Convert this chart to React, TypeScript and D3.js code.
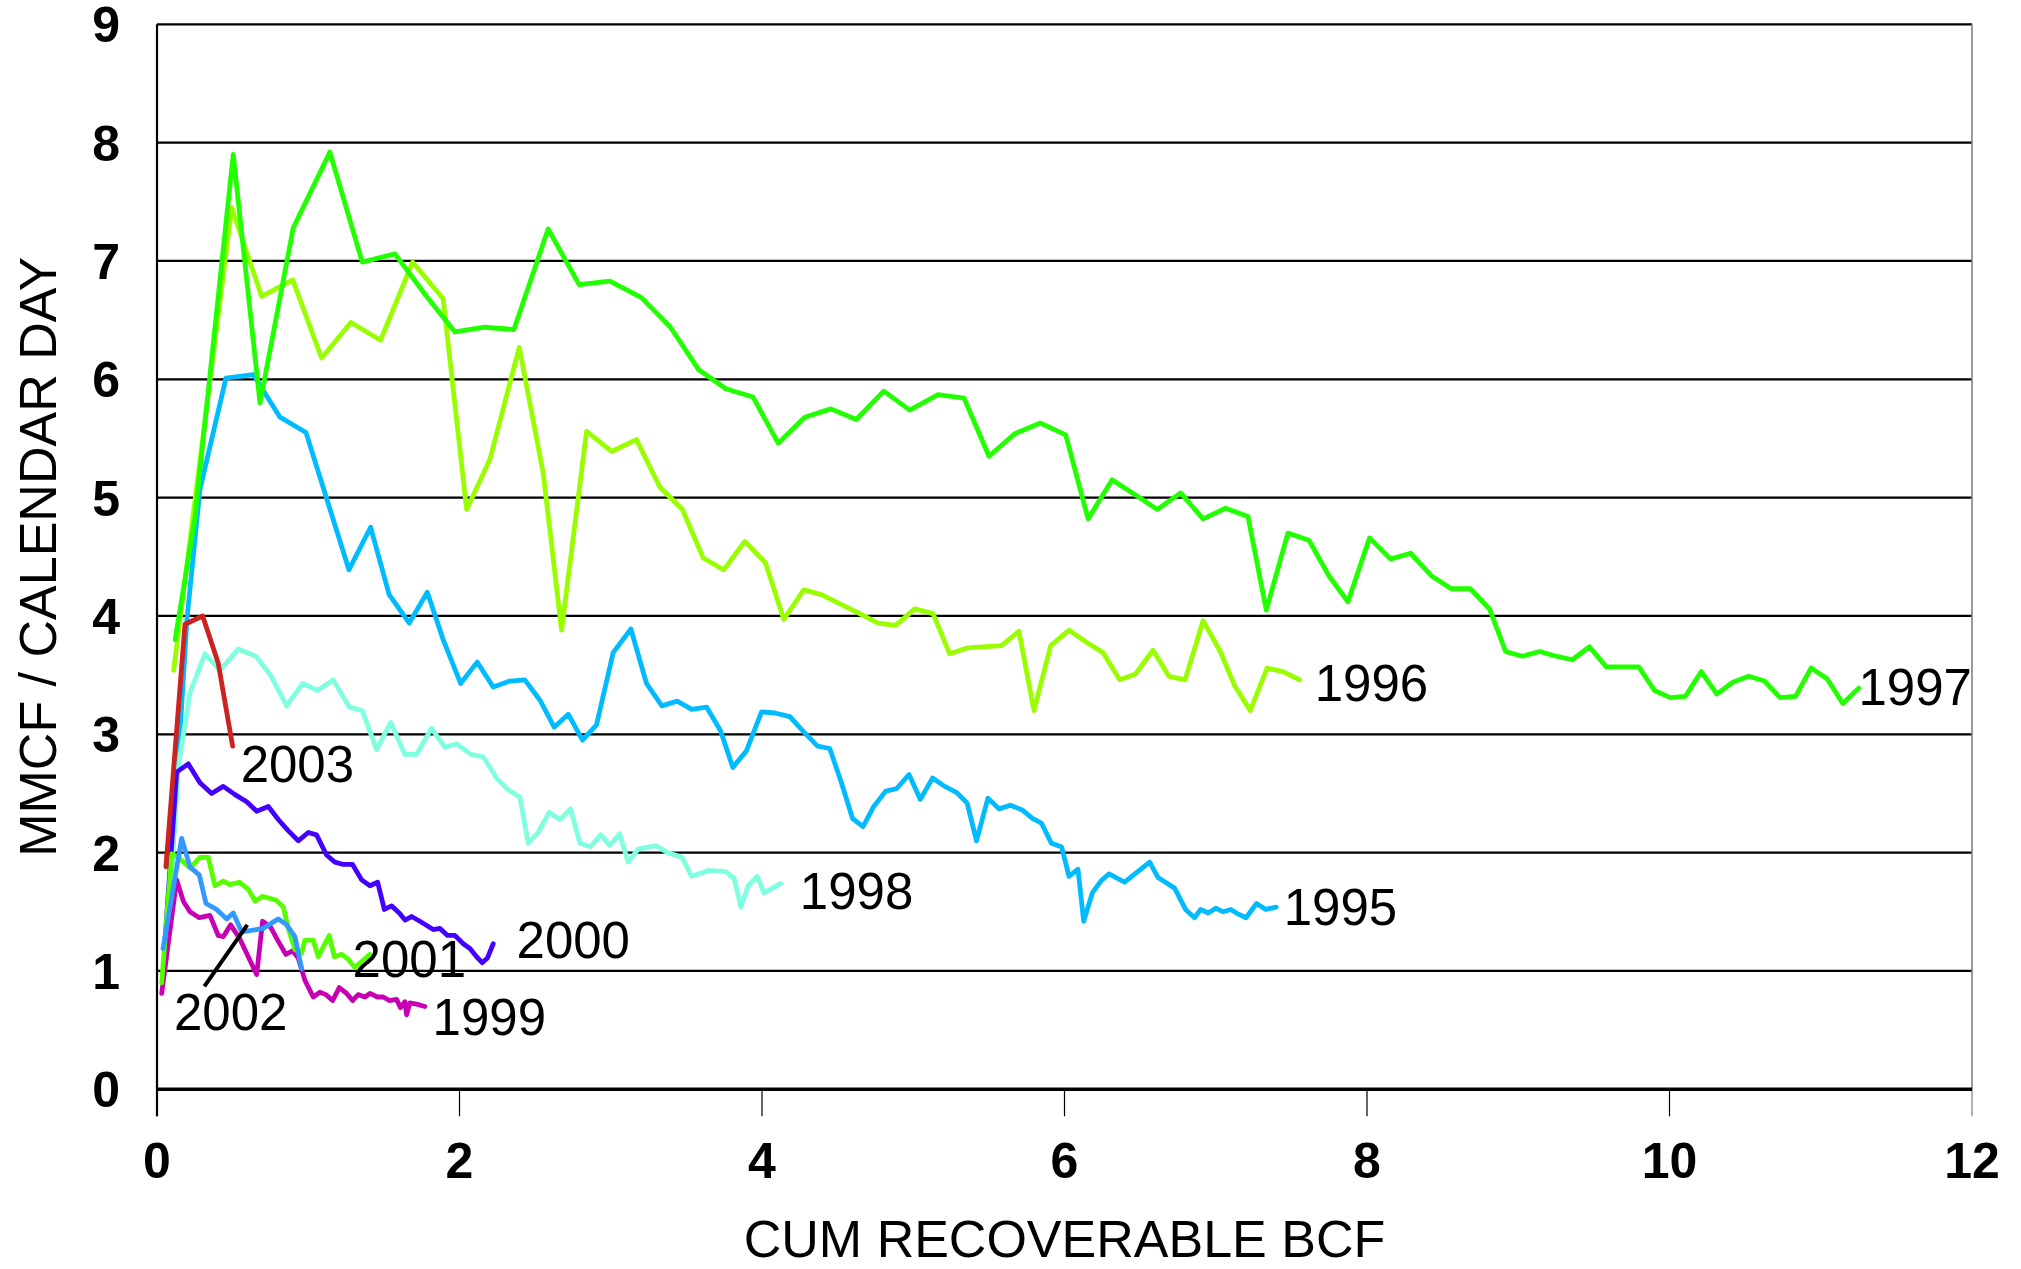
import React from "react";
import * as d3 from "d3";

type Pt = [number, number];

const xTicks = [0, 2, 4, 6, 8, 10, 12];
const yTicks = [0, 1, 2, 3, 4, 5, 6, 7, 8, 9];

const s1995: Pt[] = [[0.06,1.1],[0.198,3.97],[0.284,5.07],[0.456,6.01],[0.637,6.04],[0.813,5.68],[0.985,5.55],[1.269,4.39],[1.412,4.75],[1.535,4.18],[1.668,3.94],[1.787,4.2],[1.892,3.8],[2.007,3.43],[2.117,3.61],[2.223,3.4],[2.333,3.45],[2.432,3.46],[2.531,3.29],[2.626,3.06],[2.719,3.17],[2.813,2.95],[2.906,3.08],[3.016,3.69],[3.133,3.89],[3.236,3.43],[3.338,3.24],[3.439,3.28],[3.536,3.21],[3.633,3.23],[3.726,3.03],[3.807,2.72],[3.897,2.86],[3.997,3.19],[4.085,3.18],[4.184,3.15],[4.276,3.02],[4.367,2.9],[4.448,2.88],[4.525,2.59],[4.598,2.29],[4.668,2.22],[4.739,2.39],[4.818,2.52],[4.889,2.54],[4.972,2.66],[5.047,2.45],[5.127,2.63],[5.208,2.56],[5.285,2.51],[5.356,2.42],[5.418,2.1],[5.494,2.46],[5.567,2.37],[5.642,2.4],[5.722,2.36],[5.788,2.29],[5.847,2.25],[5.913,2.08],[5.98,2.05],[6.03,1.8],[6.089,1.86],[6.127,1.42],[6.184,1.66],[6.24,1.76],[6.294,1.82],[6.397,1.75],[6.563,1.92],[6.618,1.79],[6.728,1.7],[6.8,1.52],[6.86,1.45],[6.9,1.52],[6.95,1.49],[7.0,1.53],[7.05,1.5],[7.1,1.52],[7.15,1.48],[7.2,1.45],[7.27,1.57],[7.33,1.52],[7.4,1.54]];

const s1996: Pt[] = [[0.11,3.54],[0.494,7.45],[0.692,6.7],[0.897,6.84],[1.088,6.18],[1.282,6.48],[1.478,6.33],[1.69,6.99],[1.892,6.68],[2.047,4.9],[2.2,5.32],[2.395,6.27],[2.553,5.21],[2.675,3.88],[2.84,5.56],[3.005,5.39],[3.17,5.49],[3.324,5.09],[3.474,4.9],[3.611,4.49],[3.747,4.39],[3.886,4.63],[4.023,4.45],[4.144,3.97],[4.276,4.22],[4.393,4.18],[4.646,4.02],[4.767,3.94],[4.884,3.92],[5.01,4.06],[5.131,4.02],[5.241,3.68],[5.356,3.73],[5.583,3.75],[5.699,3.87],[5.798,3.2],[5.909,3.75],[6.03,3.88],[6.155,3.77],[6.255,3.69],[6.365,3.46],[6.47,3.51],[6.585,3.71],[6.691,3.49],[6.797,3.46],[6.916,3.96],[7.03,3.7],[7.125,3.41],[7.228,3.2],[7.339,3.56],[7.444,3.53],[7.555,3.46]];

const s1997: Pt[] = [[0.12,3.8],[0.25,4.82],[0.504,7.9],[0.681,5.8],[0.901,7.28],[1.143,7.92],[1.357,6.99],[1.573,7.06],[1.783,6.7],[1.97,6.4],[2.168,6.44],[2.36,6.42],[2.586,7.27],[2.791,6.8],[2.994,6.83],[3.203,6.69],[3.395,6.44],[3.582,6.08],[3.761,5.92],[3.941,5.85],[4.107,5.46],[4.283,5.68],[4.455,5.75],[4.624,5.66],[4.805,5.9],[4.977,5.74],[5.164,5.87],[5.336,5.84],[5.501,5.35],[5.671,5.54],[5.841,5.63],[6.008,5.53],[6.156,4.82],[6.314,5.15],[6.46,5.03],[6.614,4.9],[6.768,5.04],[6.916,4.82],[7.065,4.91],[7.213,4.84],[7.334,4.05],[7.477,4.7],[7.616,4.64],[7.748,4.34],[7.874,4.12],[8.017,4.66],[8.156,4.48],[8.288,4.53],[8.425,4.34],[8.557,4.23],[8.683,4.23],[8.81,4.06],[8.916,3.7],[9.026,3.66],[9.141,3.7],[9.251,3.66],[9.357,3.63],[9.471,3.74],[9.582,3.57],[9.692,3.57],[9.797,3.57],[9.901,3.37],[10.005,3.31],[10.104,3.32],[10.21,3.53],[10.313,3.34],[10.418,3.44],[10.524,3.49],[10.628,3.45],[10.731,3.31],[10.833,3.32],[10.936,3.56],[11.042,3.47],[11.146,3.26],[11.251,3.39]];

const s1998: Pt[] = [[0.06,1.1],[0.141,2.73],[0.218,3.35],[0.317,3.68],[0.416,3.54],[0.537,3.72],[0.654,3.66],[0.751,3.5],[0.857,3.24],[0.963,3.43],[1.062,3.37],[1.165,3.46],[1.271,3.23],[1.357,3.2],[1.452,2.87],[1.545,3.1],[1.639,2.83],[1.716,2.83],[1.815,3.05],[1.904,2.89],[1.981,2.92],[2.075,2.83],[2.157,2.81],[2.245,2.63],[2.322,2.53],[2.399,2.47],[2.454,2.08],[2.52,2.17],[2.593,2.34],[2.664,2.28],[2.734,2.37],[2.796,2.08],[2.866,2.05],[2.933,2.15],[2.994,2.06],[3.058,2.16],[3.115,1.92],[3.181,2.03],[3.298,2.06],[3.375,2.0],[3.472,1.96],[3.534,1.8],[3.65,1.85],[3.761,1.84],[3.816,1.78],[3.86,1.54],[3.908,1.72],[3.968,1.8],[4.014,1.66],[4.124,1.74]];

const s1999: Pt[] = [[0.031,0.81],[0.13,1.77],[0.174,1.59],[0.218,1.5],[0.28,1.45],[0.35,1.47],[0.405,1.3],[0.438,1.29],[0.487,1.39],[0.544,1.28],[0.659,0.97],[0.698,1.42],[0.751,1.37],[0.802,1.25],[0.852,1.14],[0.896,1.17],[0.934,1.11],[0.978,0.92],[1.033,0.78],[1.077,0.82],[1.117,0.8],[1.161,0.75],[1.205,0.86],[1.254,0.81],[1.293,0.75],[1.33,0.8],[1.375,0.78],[1.408,0.81],[1.456,0.78],[1.496,0.78],[1.536,0.75],[1.584,0.76],[1.61,0.69],[1.639,0.74],[1.65,0.63],[1.672,0.73],[1.716,0.72],[1.771,0.7]];

const s2000: Pt[] = [[0.05,1.2],[0.13,2.68],[0.207,2.75],[0.284,2.59],[0.361,2.5],[0.438,2.56],[0.516,2.49],[0.593,2.43],[0.659,2.35],[0.736,2.39],[0.802,2.28],[0.864,2.19],[0.934,2.1],[1.0,2.17],[1.055,2.15],[1.121,1.98],[1.176,1.92],[1.232,1.9],[1.293,1.9],[1.353,1.77],[1.408,1.72],[1.459,1.75],[1.503,1.52],[1.551,1.55],[1.602,1.49],[1.64,1.43],[1.683,1.46],[1.738,1.42],[1.789,1.38],[1.826,1.35],[1.87,1.36],[1.921,1.3],[1.97,1.3],[2.025,1.23],[2.069,1.19],[2.113,1.12],[2.15,1.07],[2.185,1.11],[2.223,1.23]];

const s2001: Pt[] = [[0.031,0.9],[0.097,1.99],[0.141,1.96],[0.218,1.87],[0.284,1.96],[0.339,1.96],[0.383,1.72],[0.438,1.76],[0.482,1.73],[0.544,1.75],[0.604,1.69],[0.648,1.59],[0.696,1.63],[0.786,1.6],[0.835,1.54],[0.868,1.36],[0.912,1.18],[0.956,1.15],[0.978,1.26],[1.033,1.26],[1.066,1.12],[1.139,1.3],[1.172,1.12],[1.221,1.14],[1.264,1.1],[1.308,1.03],[1.353,1.08],[1.408,1.14]];

const s2002: Pt[] = [[0.04,1.19],[0.163,2.12],[0.218,1.88],[0.28,1.81],[0.324,1.57],[0.394,1.52],[0.461,1.44],[0.504,1.49],[0.56,1.33],[0.614,1.34],[0.703,1.36],[0.802,1.44],[0.857,1.39],[0.912,1.29],[0.956,1.02]];

const s2003: Pt[] = [[0.059,1.88],[0.185,3.93],[0.302,4.0],[0.405,3.6],[0.5,2.9]];

const leader2002: Pt[] = [[0.313,0.87],[0.597,1.39]];

const seriesNames = ["1995","1996","1997","1998","1999","2000","2001","2002","2003"];
const seriesData = [s1995, s1996, s1997, s1998, s1999, s2000, s2001, s2002, s2003];
const seriesColors = ["#00BBFF","#99FF00","#22FF00","#7FFFDF","#C800B4","#4400FF","#55FF00","#3399FF","#CC2222"];
// label anchor (data coords, text baseline start)
const labelPos: Pt[] = [[7.449,1.389],[7.654,3.28],[11.249,3.248],[4.25,1.524],[1.822,0.459],[2.377,1.107],[1.293,0.952],[0.112,0.501],[0.553,2.6]];

const W = 2021, H = 1269;
const FONT = "'Liberation Sans', Arial, Helvetica, sans-serif";

export default function App() {
  const x = d3.scaleLinear().domain([0, 12]).range([157, 1972]);
  const y = d3.scaleLinear().domain([0, 9]).range([1089.3, 24.3]);
  const line = d3.line<Pt>().x(d => x(d[0])).y(d => y(d[1]));

  return (
    <svg width={W} height={H} style={{ position: "absolute", left: 0, top: 0, background: "#fff" }} fontFamily={FONT}>
      <rect x={0} y={0} width={W} height={H} fill="#fff" />
      {/* gridlines */}
      {yTicks.filter(t => t > 0).map(t => (
        <line key={"g" + t} x1={x(0)} x2={x(12)} y1={y(t)} y2={y(t)} stroke="#000" strokeWidth={2.2} />
      ))}
      {/* right border */}
      <line x1={x(12)} x2={x(12)} y1={y(9)} y2={y(0)} stroke="#808080" strokeWidth={1.6} />
      {/* x ticks */}
      {xTicks.map(t => (
        <line key={"xt" + t} x1={x(t)} x2={x(t)} y1={y(0)} y2={y(0) + 27} stroke={t === 12 ? "#808080" : "#000"} strokeWidth={1.2} />
      ))}
      {/* left axis */}
      <line x1={x(0)} x2={x(0)} y1={y(9)} y2={y(0) + 27} stroke="#000" strokeWidth={2.2} />
      {/* series */}
      {seriesData.map((s, i) => (
        <path key={seriesNames[i]} d={line(s) || ""} fill="none" stroke={seriesColors[i]} strokeWidth={4.8} strokeLinejoin="round" strokeLinecap="round" />
      ))}
      {/* bottom axis */}
      <line x1={x(0)} x2={x(12)} y1={y(0)} y2={y(0)} stroke="#000" strokeWidth={3.5} />
      {/* leader line for 2002 */}
      <path d={line(leader2002) || ""} stroke="#000" strokeWidth={4} fill="none" />
      {/* series labels */}
      {seriesNames.map((n, i) => (
        <text key={"l" + n} x={x(labelPos[i][0])} y={y(labelPos[i][1])} fontSize={51} fill="#000">{n}</text>
      ))}
      {/* y tick labels */}
      {yTicks.map(t => (
        <text key={"yl" + t} x={120} y={y(t)} dy="0.36em" textAnchor="end" fontSize={50} fontWeight="bold">{t}</text>
      ))}
      {/* x tick labels */}
      {xTicks.map(t => (
        <text key={"xl" + t} x={x(t)} y={1178} textAnchor="middle" fontSize={50} fontWeight="bold">{t}</text>
      ))}
      {/* axis titles */}
      <text x={(x(0) + x(12)) / 2} y={1257} textAnchor="middle" fontSize={52}>CUM RECOVERABLE BCF</text>
      <text transform={`translate(56, ${(y(0) + y(9)) / 2}) rotate(-90)`} textAnchor="middle" fontSize={52}>MMCF / CALENDAR DAY</text>
    </svg>
  );
}
